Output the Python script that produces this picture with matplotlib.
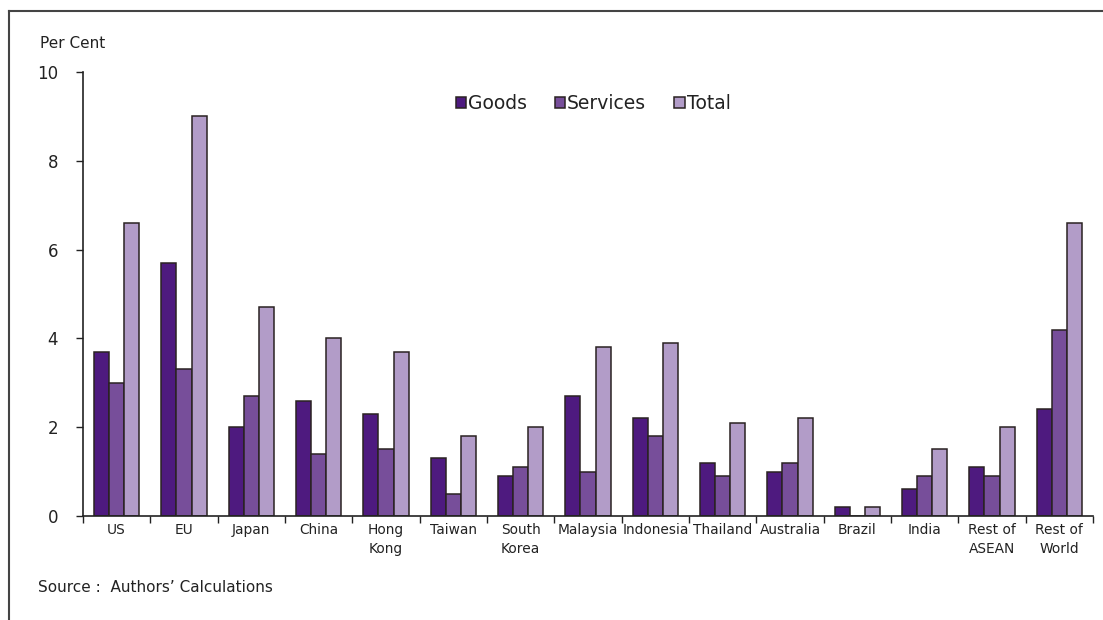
import matplotlib
matplotlib.use("Agg")
import matplotlib.pyplot as plt
import numpy as np
from matplotlib.lines import Line2D

categories = ["US", "EU", "Japan", "China", "Hong\nKong", "Taiwan", "South\nKorea",
              "Malaysia", "Indonesia", "Thailand", "Australia", "Brazil", "India",
              "Rest of\nASEAN", "Rest of\nWorld"]
goods = [3.7, 5.7, 2.0, 2.6, 2.3, 1.3, 0.9, 2.7, 2.2, 1.2, 1.0, 0.2, 0.6, 1.1, 2.4]
services = [3.0, 3.3, 2.7, 1.4, 1.5, 0.5, 1.1, 1.0, 1.8, 0.9, 1.2, 0.0, 0.9, 0.9, 4.2]
total = [6.6, 9.0, 4.7, 4.0, 3.7, 1.8, 2.0, 3.8, 3.9, 2.1, 2.2, 0.2, 1.5, 2.0, 6.6]
series_names = ["Goods", "Services", "Total"]
colors = ["#4e1a7f", "#774e9a", "#b29cc8"]

plt.rcParams['font.family'] = ['DejaVu Sans']
fig = plt.figure(figsize=(11.03, 6.20), dpi=100)
ax = fig.add_axes([0.0752, 0.1677, 0.9158, 0.7162])

x = np.arange(len(categories))
w = 0.225
edge = "#2a2222"
for i, (vals, name) in enumerate(zip([goods, services, total], series_names)):
    ax.bar(x + (i - 1) * w, vals, width=w, color=colors[i], edgecolor=edge,
           linewidth=1.1, label=name)

ax.set_xlim(-0.5, len(categories) - 0.5)
ax.set_ylim(0, 10)
ax.set_yticks([0, 2, 4, 6, 8, 10])
ax.tick_params(axis='y', direction='out', length=5, width=1, pad=13, labelsize=12, colors="#222222")
ax.set_xticks(x)
ax.set_xticklabels(categories, fontsize=9.9, color="#222222", linespacing=1.5)
ax.tick_params(axis='x', which='major', length=0, pad=5)
ax.set_xticks(np.arange(len(categories) + 1) - 0.5, minor=True)
ax.tick_params(axis='x', which='minor', direction='out', length=5, width=1, colors="#222222")
for s in ['top', 'right']:
    ax.spines[s].set_visible(False)
for s in ['left', 'bottom']:
    ax.spines[s].set_color("#222222")
    ax.spines[s].set_linewidth(1.2)

leg = ax.legend(loc='upper center', bbox_to_anchor=(0.505, 0.988), ncol=3, frameon=False,
                fontsize=13.5, handlelength=0.55, handleheight=0.55, handletextpad=0.1,
                columnspacing=1.5)
for t in leg.get_texts():
    t.set_color("#222222")

fig.text(40 / 1103, 1 - 43 / 620, "Per Cent", fontsize=11, color="#222222", va='center', ha='left')
fig.text(38 / 1103, 1 - 588 / 620, "Source :  Authors\u2019 Calculations", fontsize=11,
         color="#222222", va='center', ha='left')

fig.add_artist(Line2D([9 / 1103, 1.0], [1 - 11 / 620, 1 - 11 / 620], color="#444444", lw=1.5,
                      transform=fig.transFigure))
fig.add_artist(Line2D([9 / 1103, 9 / 1103], [1 - 11 / 620, 0.0], color="#444444", lw=1.5,
                      transform=fig.transFigure))

fig.savefig("out.png", dpi=100)
